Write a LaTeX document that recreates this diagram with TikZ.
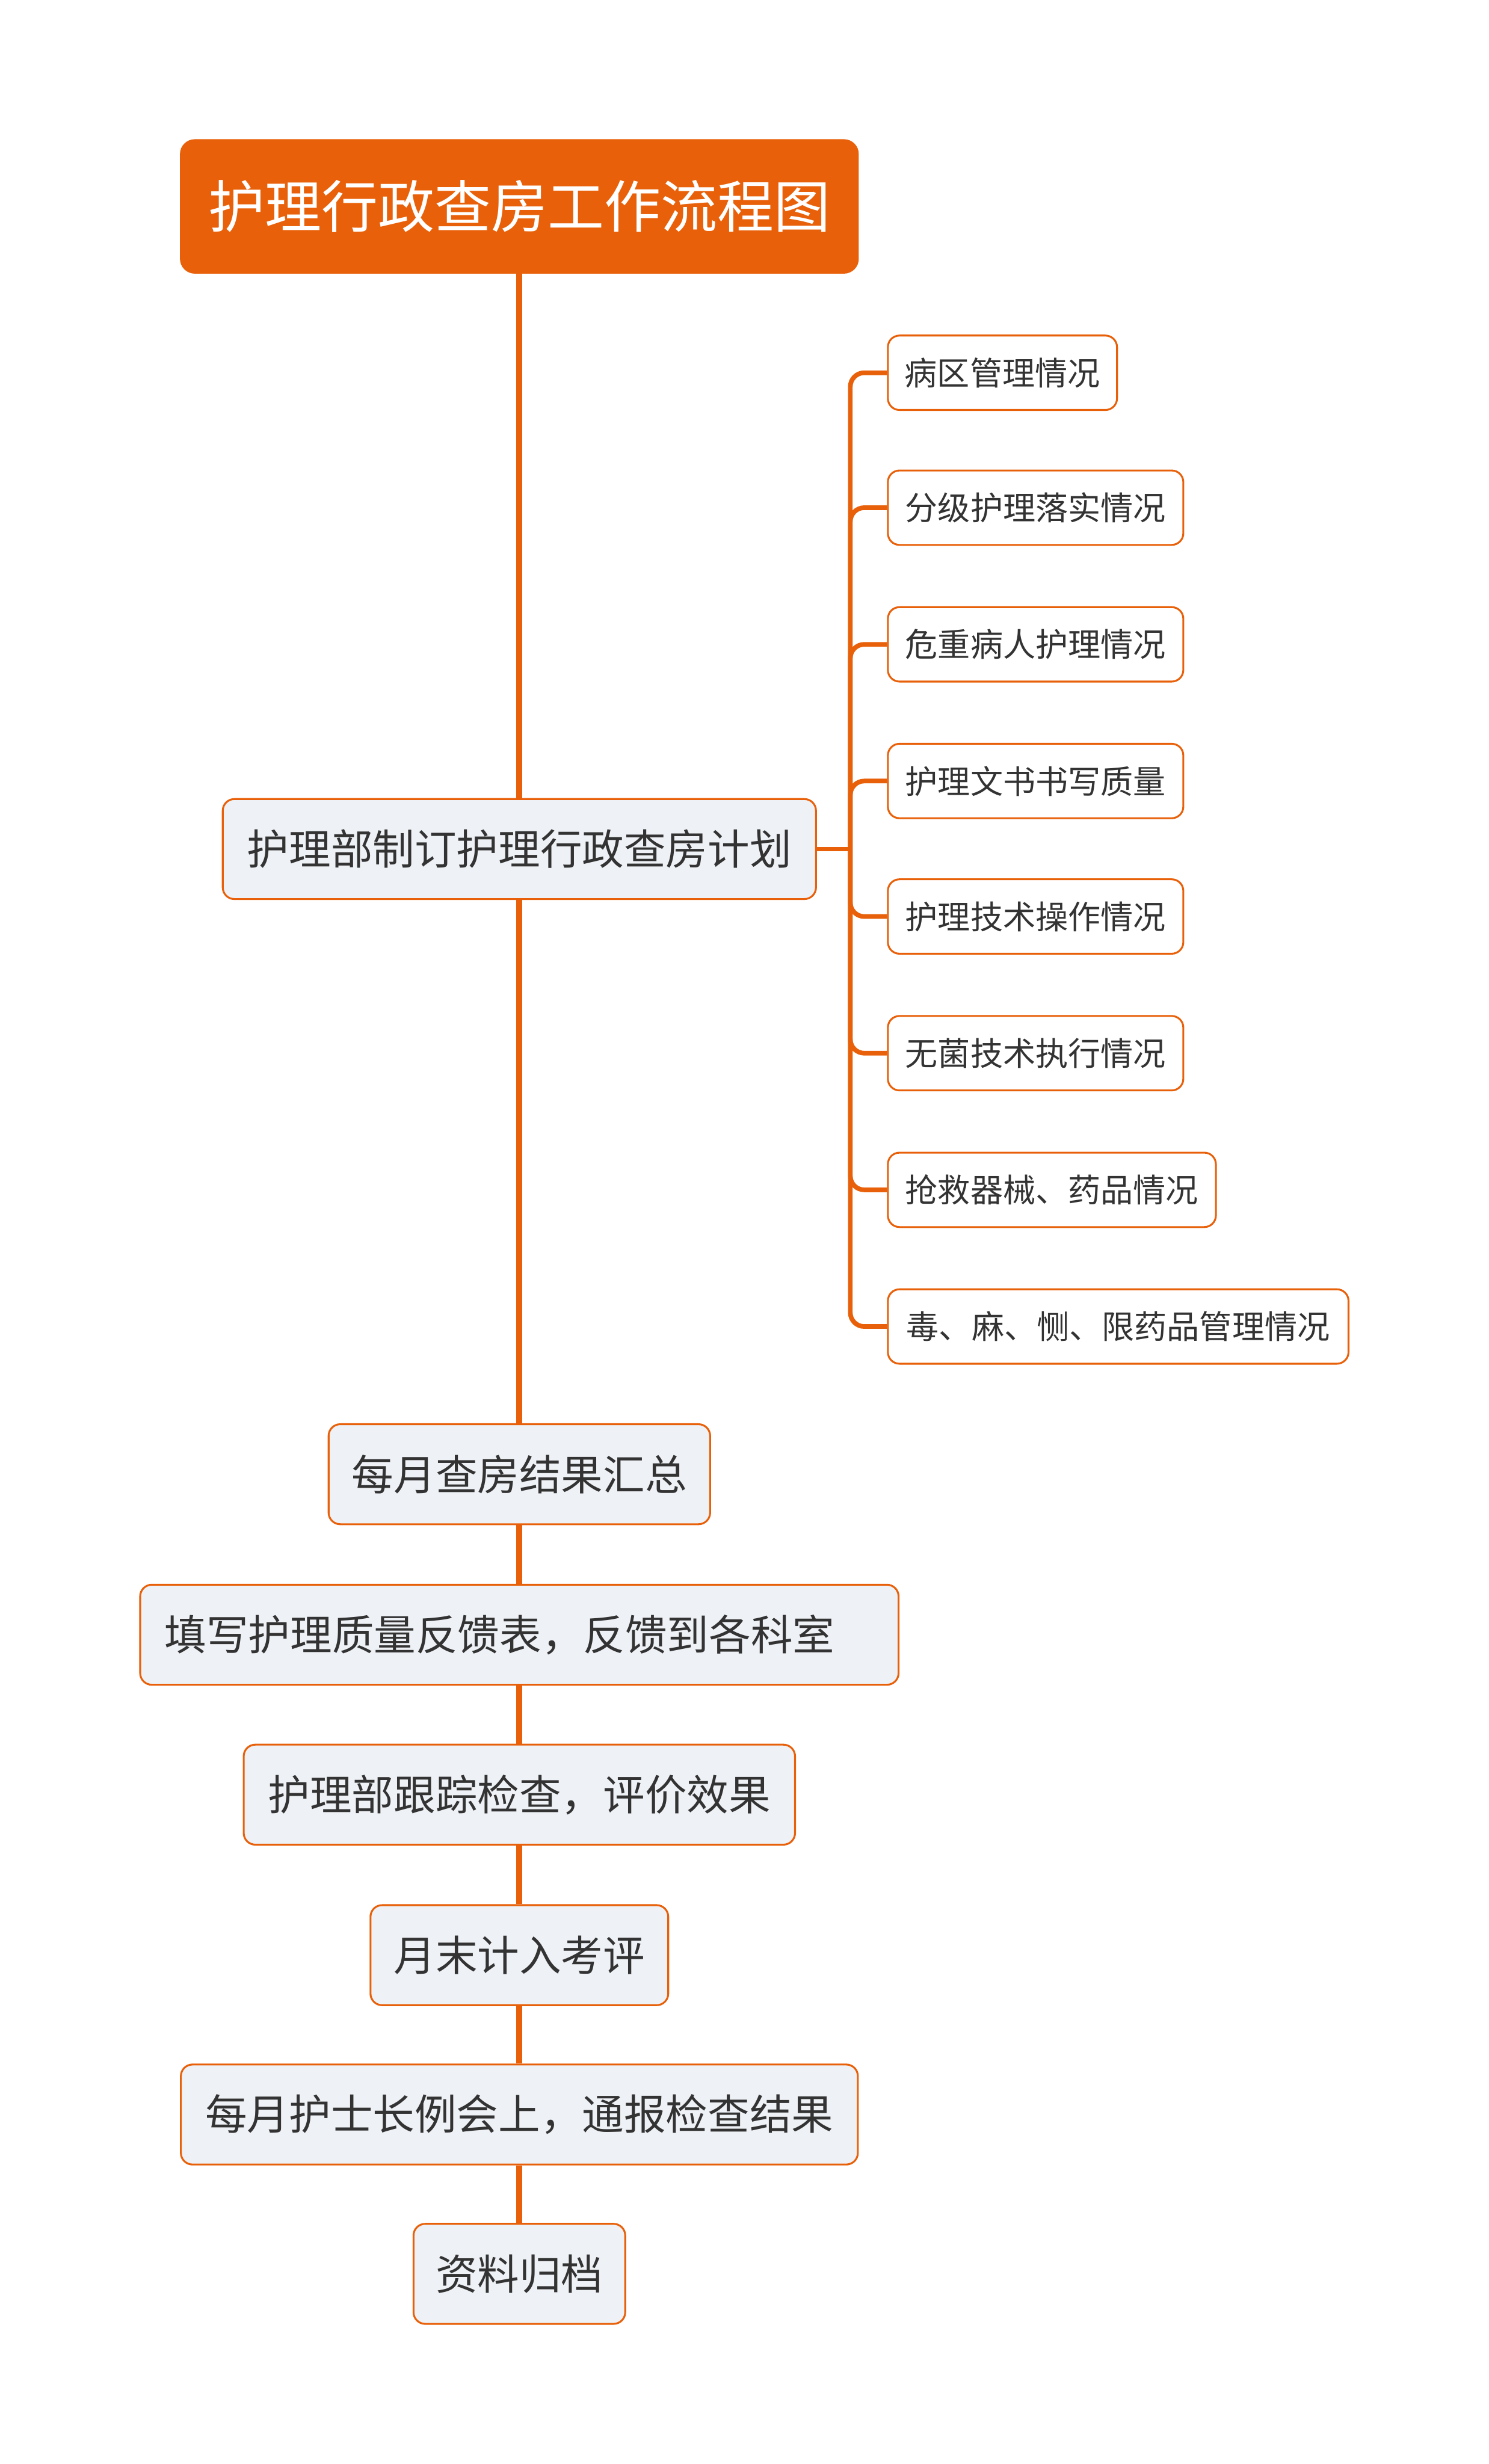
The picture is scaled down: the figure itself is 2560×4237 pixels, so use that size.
\documentclass[tikz,border=0pt]{standalone}
\usepackage{fontspec}
\setmainfont{Noto Sans CJK SC}
\definecolor{orng}{HTML}{E8610A}
\definecolor{mainfill}{HTML}{EEF1F5}
\definecolor{txt}{HTML}{333333}
\begin{document}
\begin{tikzpicture}[x=0.25pt,y=-0.25pt,
  titlebox/.style={draw=orng,fill=orng,line width=0.8pt,rounded corners=6pt,text=white,
    font=\fontsize{24.3pt}{28pt}\selectfont,minimum width=291pt,minimum height=57pt,inner sep=0pt},
  mainbox/.style={draw=orng,fill=mainfill,line width=0.8pt,rounded corners=5pt,text=txt,
    font=\fontsize{18pt}{22pt}\selectfont,minimum height=43pt,inner sep=0pt},
  subbox/.style={draw=orng,fill=white,line width=0.8pt,rounded corners=5pt,text=txt,
    font=\fontsize{14pt}{17pt}\selectfont,minimum height=32pt,inner sep=0pt,anchor=west},
  trunk/.style={draw=orng,line width=2.5pt},
  branch/.style={draw=orng,line width=2pt,rounded corners=6pt}]
\useasboundingbox (0,0) rectangle (2560,4237);
\fill[white] (0,0) rectangle (2560,4237);

\node[titlebox] (t) at (893,355) {护理行政查房工作流程图};
\node[mainbox,minimum width=255pt] (n1) at (893,1460) {护理部制订护理行政查房计划};
\node[mainbox,minimum width=164pt] (n2) at (893,2535) {每月查房结果汇总};
\node[mainbox,minimum width=326pt] (n3) at (893,2811) {填写护理质量反馈表，反馈到各科室\kern17pt};
\node[mainbox,minimum width=237pt] (n4) at (893,3086) {护理部跟踪检查，评价效果};
\node[mainbox,minimum width=128pt] (n5) at (893,3362) {月末计入考评};
\node[mainbox,minimum width=291pt] (n6) at (893,3636) {每月护士长例会上，通报检查结果};
\node[mainbox,minimum width=91pt] (n7) at (893,3910) {资料归档};

\node[subbox,minimum width=98.5pt] (c1) at (1525,641) {病区管理情况};
\node[subbox,minimum width=127pt] (c2) at (1525,873) {分级护理落实情况};
\node[subbox,minimum width=127pt] (c3) at (1525,1108) {危重病人护理情况};
\node[subbox,minimum width=127pt] (c4) at (1525,1343) {护理文书书写质量};
\node[subbox,minimum width=127pt] (c5) at (1525,1576) {护理技术操作情况};
\node[subbox,minimum width=127pt] (c6) at (1525,1811) {无菌技术执行情况};
\node[subbox,minimum width=141pt] (c7) at (1525,2046) {抢救器械、药品情况};
\node[subbox,minimum width=198pt] (c8) at (1525,2281) {毒、麻、恻、限药品管理情况};

\coordinate (bj) at (1462,1460);

\draw[trunk] (t.south) -- (n1.north);
\draw[trunk] (n1.south) -- (n2.north);
\draw[trunk] (n2.south) -- (n3.north);
\draw[trunk] (n3.south) -- (n4.north);
\draw[trunk] (n4.south) -- (n5.north);
\draw[trunk] (n5.south) -- (n6.north);
\draw[trunk] (n6.south) -- (n7.north);
\draw[branch] (n1.east) -- (bj);
\foreach \c in {c1,c2,c3,c4,c5,c6,c7,c8}{
  \draw[branch] (bj) |- (\c.west);
}
\end{tikzpicture}
\end{document}
